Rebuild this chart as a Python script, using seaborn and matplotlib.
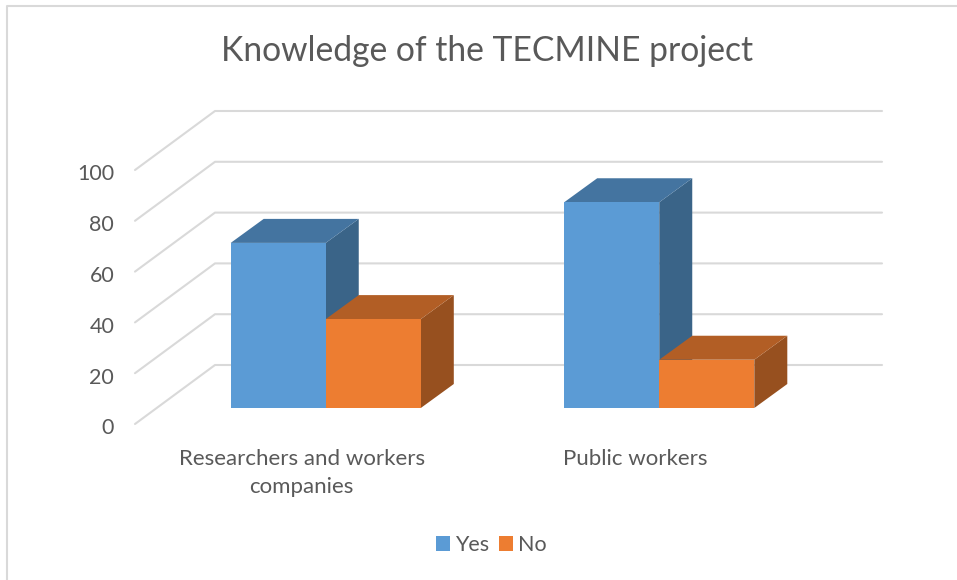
import matplotlib
matplotlib.use("Agg")
import matplotlib.pyplot as plt
import pandas as pd
import seaborn as sns
from matplotlib.patches import Polygon, Rectangle
from matplotlib.lines import Line2D
from matplotlib.transforms import Affine2D

categories = ["Researchers and workers\ncompanies", "Public workers"]
yes_values = [65, 81]
no_values = [35, 19]
series_names = ["Yes", "No"]
y_ticks = [0, 20, 40, 60, 80, 100]
title = "Knowledge of the TECMINE project"

W, H = 957, 580
TEXT = "#595959"
GRID = "#d9d9d9"
front = {"Yes": "#5b9bd5", "No": "#ed7d31"}
top_c = {"Yes": "#4474a0", "No": "#b25e25"}
side_c = {"Yes": "#3a6488", "No": "#97501f"}

sns.set_theme(style="white")
plt.rcParams["font.family"] = ["Lato", "DejaVu Sans"]

fig = plt.figure(figsize=(W / 100, H / 100), dpi=100)
# axes = front plane of the pseudo-3D box, in pixels
L, R, B, T = 135, 802, 424, 170
ax = fig.add_axes([L / W, 1 - B / H, (R - L) / W, (B - T) / H])
ax.patch.set_alpha(0)

df = pd.DataFrame({
    "category": categories * 2,
    "series": [series_names[0]] * 2 + [series_names[1]] * 2,
    "value": yes_values + no_values,
})
sns.barplot(data=df, x="category", y="value", hue="series", palette=front,
            hue_order=series_names, order=categories, width=0.57, gap=0,
            saturation=1, legend=False, ax=ax, zorder=4, linewidth=0)
ax.set_xlim(-0.5, 1.5)
ax.set_ylim(0, 100)

px_x = (R - L) / 2      # pixels per category
px_y = (B - T) / 100    # pixels per value unit
shift = Affine2D().translate(24, 16)   # bars stand inside the floor
bar_tf = ax.transData + shift

# back wall and left wall gridlines
bx, by = 80 / px_x, 59 / px_y
for v in y_ticks:
    ax.add_line(Line2D([-0.5, -0.5 + bx, 1.5 + bx], [v, v + by, v + by],
                       color=GRID, lw=1.5, clip_on=False, zorder=1))

# bar depth faces
dx, dy = 33 / px_x, 24 / px_y
for name, bars in zip(series_names, ax.containers):
    z = 2 if name == "Yes" else 3
    for bar in bars:
        bar.set_transform(bar_tf)
        bar.set_clip_on(False)
        x0, x1, v = bar.get_x(), bar.get_x() + bar.get_width(), bar.get_height()
        ax.add_patch(Polygon([(x1, 0), (x1 + dx, dy), (x1 + dx, v + dy), (x1, v)],
                             closed=True, fc=side_c[name], ec="none",
                             transform=bar_tf, zorder=z, clip_on=False))
        ax.add_patch(Polygon([(x0, v), (x0 + dx, v + dy), (x1 + dx, v + dy), (x1, v)],
                             closed=True, fc=top_c[name], ec="none",
                             transform=bar_tf, zorder=z, clip_on=False))

sns.despine(ax=ax, left=True, bottom=True)
ax.set_xlabel("")
ax.set_ylabel("")
ax.set_yticks(y_ticks)
ax.tick_params(axis="y", length=0, pad=15, labelsize=15.5, labelcolor=TEXT)
ax.tick_params(axis="x", length=0, pad=18, labelsize=16, labelcolor=TEXT)
ax.grid(False)
for lab in ax.get_xticklabels():
    lab.set_linespacing(1.5)
for lab in ax.get_yticklabels():
    lab.set_transform(lab.get_transform() + Affine2D().translate(0, -2.5))

fig.text(487 / W, 1 - 51 / H, title, ha="center", va="center",
         fontsize=24.2, color=TEXT)

handles = [Rectangle((0, 0), 1, 1, fc=front[n], ec="none") for n in series_names]
fig.legend(handles, series_names, loc="center", bbox_to_anchor=(491.5 / W, 1 - 545 / H),
           ncol=2, frameon=False, fontsize=15.5, labelcolor=TEXT, handlelength=0.65,
           handleheight=0.65, handletextpad=0.25, columnspacing=0.45)

# chart frame: only its top and left edges fall inside the picture
fig.add_artist(Line2D([1, 7 / W, 7 / W], [1 - 6 / H, 1 - 6 / H, 0], color=GRID, lw=1.5,
                      transform=fig.transFigure))

fig.savefig("out.png", dpi=100, facecolor="white")
